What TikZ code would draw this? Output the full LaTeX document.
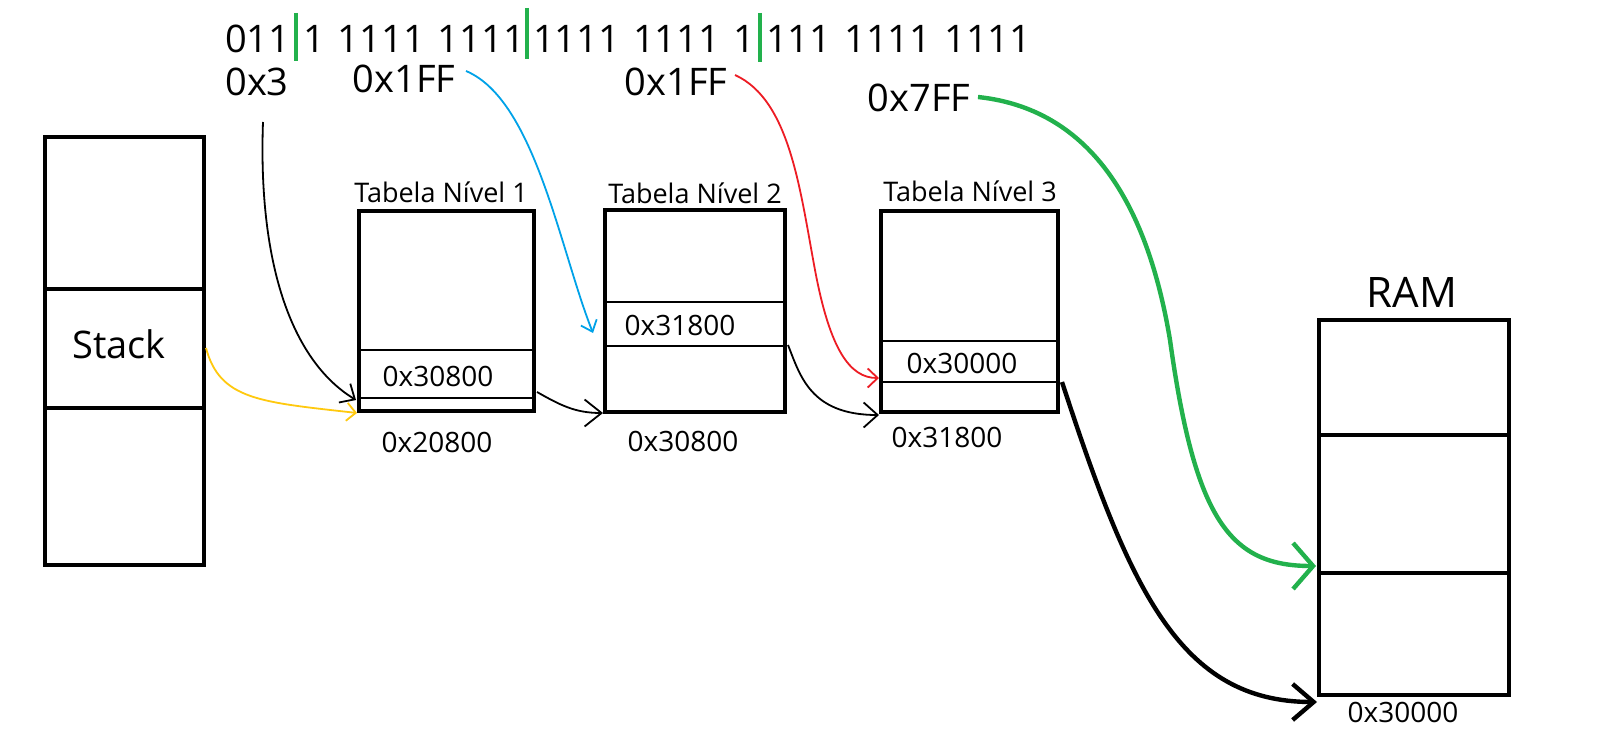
\documentclass[tikz,border=0pt]{standalone}
\usepackage{fontspec}
\setmainfont{Open Sans}
\usetikzlibrary{arrows.meta}
\definecolor{pgreen}{RGB}{34,177,76}
\definecolor{pblue}{RGB}{0,162,232}
\definecolor{pred}{RGB}{237,28,36}
\definecolor{pyellow}{RGB}{255,201,14}
\newcommand\gp{\hspace{13pt}}
\begin{document}
\begin{tikzpicture}[x=1pt,y=-1pt,
  box/.style={draw,line width=4.6pt,inner sep=0pt,outer sep=0pt},
  thickdiv/.style={line width=4.6pt},
  divline/.style={line width=1.3pt},
  bits/.style={font=\fontsize{38}{40}\selectfont,inner sep=0pt},
  big/.style={font=\fontsize{38}{40}\selectfont,inner sep=0pt},
  ramlab/.style={font=\fontsize{42}{44}\selectfont,inner sep=0pt},
  addr/.style={font=\fontsize{28}{30}\selectfont,inner sep=0pt},
  ttl/.style={font=\fontsize{27}{29}\selectfont,inner sep=0pt},
  bar/.style={draw=pgreen,line width=4.5pt},
  conn/.style={line width=1.8pt},
  thickconn/.style={line width=4.4pt}
]
\useasboundingbox (0,0) rectangle (1619,735);
\fill[white] (0,0) rectangle (1619,735);

% bit string
\node[bits,anchor=west] (b0) at (225,38.5) {011};
\node[bits,anchor=west] (b1) at (303,38.5) {1\gp1111\gp1111};
\node[bits,anchor=west] (b2) at (533,38.5) {1111\gp1111\gp1};
\node[bits,anchor=west] (b3) at (766,38.5) {111\gp1111\gp1111};
\draw[bar] (296,13) -- (296,61);
\draw[bar] (527,8) -- (527,59);
\draw[bar] (760,13) -- (760,62);

% field labels
\node[bits] (l0) at (257,82) {0x3};
\node[bits] (l1) at (404,79) {0x1FF};
\node[bits] (l2) at (676,82) {0x1FF};
\node[bits] (l3) at (919,98) {0x7FF};

% stack
\node[box,minimum width=159pt,minimum height=428pt] (stack) at (124.5,351) {};
\draw[thickdiv] (45,289) -- (204,289);
\draw[thickdiv] (45,408) -- (204,408);
\node[big] (stacktxt) at (119,344) {Stack};

% table 1
\node[box,minimum width=175pt,minimum height=200pt] (t1) at (446.5,311) {};
\draw[divline] (359,350) -- (534,350);
\draw[divline] (359,398) -- (534,398);
\node[addr] (t1e) at (438,376) {0x30800};
\node[ttl] (t1t) at (441,192) {Tabela Nível 1};
\node[addr] (t1a) at (437,442) {0x20800};

% table 2
\node[box,minimum width=180pt,minimum height=202pt] (t2) at (695,311) {};
\draw[divline] (605,302) -- (785,302);
\draw[divline] (605,346) -- (785,346);
\node[addr] (t2e) at (680,325) {0x31800};
\node[ttl] (t2t) at (695,193) {Tabela Nível 2};
\node[addr] (t2a) at (683,441) {0x30800};

% table 3
\node[box,minimum width=177pt,minimum height=201pt] (t3) at (969.5,311.5) {};
\draw[divline] (881,341) -- (1058,341);
\draw[divline] (881,382) -- (1058,382);
\node[addr] (t3e) at (962,363) {0x30000};
\node[ttl] (t3t) at (970,191) {Tabela Nível 3};
\node[addr] (t3a) at (947,437) {0x31800};

% RAM
\node[box,minimum width=190pt,minimum height=375pt] (ram) at (1414,507.5) {};
\draw[thickdiv] (1319,435) -- (1509,435);
\draw[thickdiv] (1319,573) -- (1509,573);
\node[ramlab] (ramt) at (1412,292) {RAM};
\node[addr] (rama) at (1403,712) {0x30000};

% connector ends
\coordinate (s0) at (263,122);
\coordinate (e0) at (356,400);
\coordinate (sy) at (206,348);
\coordinate (ey) at (357,413);
\coordinate (sb) at (466,71);
\coordinate (eb) at (593,333);
\coordinate (s1) at (537,392);
\coordinate (e1) at (603,413);
\coordinate (sr) at (735,75);
\coordinate (er) at (879,378);
\coordinate (s2) at (788,345);
\coordinate (e2) at (879,415);
\coordinate (sg) at (978,97);
\coordinate (eg) at (1316,566);
\coordinate (s3) at (1062,382);
\coordinate (e3) at (1317,702);

\draw[conn,-{Straight Barb[length=12pt,width=22pt]}] (s0) .. controls (258,260) and (290,360) .. (e0);
\draw[conn,pyellow,-{Straight Barb[length=9pt,width=18pt]}] (sy) .. controls (220,400) and (260,402) .. (ey);
\draw[conn,pblue,-{Straight Barb[length=10pt,width=17pt]}] (sb) .. controls (535,100) and (560,250) .. (eb);
\draw[conn,-{Straight Barb[length=17pt,width=27pt]}] (s1) .. controls (560,405) and (575,413) .. (e1);
\draw[conn,pred,-{Straight Barb[length=10pt,width=19pt]}] (sr) .. controls (790,100) and (800,190) .. (815,270) .. controls (830,350) and (850,378) .. (er);
\draw[conn,-{Straight Barb[length=14pt,width=25pt]}] (s2) .. controls (800,375) and (810,415) .. (e2);
\draw[thickconn,pgreen,-{Straight Barb[length=20pt,width=46pt]}] (sg) .. controls (1100,110) and (1150,220) .. (1170,340) .. controls (1195,520) and (1230,566) .. (eg);
\draw[thickconn,-{Straight Barb[length=21pt,width=36pt]}] (s3) .. controls (1130,590) and (1180,702) .. (e3);
\end{tikzpicture}
\end{document}
